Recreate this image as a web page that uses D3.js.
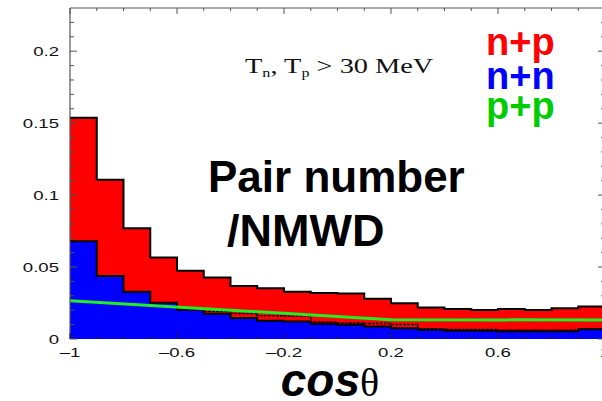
<html>
<head>
  <meta charset="utf-8" />
<style>
  html, body { margin: 0; padding: 0; background: #fff; }
  svg { display: block; }
</style>
</head>
<body>
<div id="graph"></div>
<script src="https://cdnjs.cloudflare.com/ajax/libs/d3/7.8.5/d3.min.js"></script>
<script>
// bin left edges (width 0.1)
var binStart = [-1, -0.9, -0.8, -0.7, -0.6, -0.5, -0.4, -0.3, -0.2, -0.1,
                 0, 0.1, 0.2, 0.3, 0.4, 0.5, 0.6, 0.7, 0.8, 0.9];
var binWidth = 0.1;

// n+p (red)
var np = [0.1537, 0.1106, 0.0769, 0.0567, 0.0474, 0.0428, 0.0368, 0.0352, 0.0329, 0.0320,
          0.0317, 0.0279, 0.0248, 0.0219, 0.0208, 0.0201, 0.0208, 0.0201, 0.0213, 0.0226];
// n+n (blue)
var nn = [0.0680, 0.0438, 0.0329, 0.0252, 0.0204, 0.0176, 0.0146, 0.0127, 0.0122, 0.0106,
          0.0099, 0.0086, 0.0074, 0.0064, 0.0058, 0.0058, 0.0053, 0.0053, 0.0053, 0.0067];
// extra outline histogram (black dashed)
var pp = [0.0260, 0.0240, 0.0220, 0.0210, 0.0195, 0.0191, 0.0178, 0.0162, 0.0160, 0.0118,
          0.0112, 0.0107, 0.0100, 0.0072, 0.0066, 0.0066, 0.0060, 0.0060, 0.0060, 0.0070];
// green line
var fitX = [-1, 0.2, 1];
var fitY = [0.0266, 0.0134, 0.0132];

var xTickLabels = [-1, -0.6, -0.2, 0.2, 0.6, 1];
var yTickLabels = [0, 0.05, 0.1, 0.15, 0.2];
var legend = [["n+p", "#ff0000"], ["n+n", "#0000ff"], ["p+p", "#00cc00"]];

var width = 602, height = 401;
var svg = d3.select("#graph").append("svg").attr("width", width).attr("height", height);

var x = d3.scaleLinear().domain([-1, 1]).range([70, 605]);
var y = d3.scaleLinear().domain([0, 0.23]).range([339, 8]);

function steps(vals) {
  var pts = binStart.map(function(b, i) { return [b, vals[i]]; });
  pts.push([binStart[binStart.length - 1] + binWidth, vals[vals.length - 1]]);
  return pts;
}

var area = d3.area().curve(d3.curveStepAfter)
  .x(function(d) { return x(d[0]); })
  .y0(y(0))
  .y1(function(d) { return y(d[1]); });
var line = d3.line().curve(d3.curveStepAfter)
  .x(function(d) { return x(d[0]); })
  .y(function(d) { return y(d[1]); });

function hist(vals, color) {
  var pts = steps(vals);
  svg.append("path").attr("d", area(pts)).attr("fill", color);
  svg.append("path").attr("d", line(pts)).attr("fill", "none")
    .attr("stroke", "#000").attr("stroke-width", 2);
}

hist(np, "#ff0000");
svg.append("path").attr("d", line(steps(pp))).attr("fill", "none")
  .attr("stroke", "#000").attr("stroke-width", 1.5).style("stroke-dasharray", "3, 1");
hist(nn, "#0000ff");

svg.append("path")
  .attr("d", d3.line().x(function(d) { return x(d[0]); }).y(function(d) { return y(d[1]); })
    (fitX.map(function(v, i) { return [v, fitY[i]]; })))
  .attr("fill", "none").attr("stroke", "#22ee22").attr("stroke-width", 3);

// frame
var axisColor = "#555";
svg.append("line").attr("x1", 70).attr("x2", 70).attr("y1", 8).attr("y2", 339)
  .attr("stroke", axisColor).attr("stroke-width", 1.2);
svg.append("line").attr("x1", 70).attr("x2", 605).attr("y1", 8).attr("y2", 8)
  .attr("stroke", axisColor).attr("stroke-width", 1.2);

// y ticks (left and right, pointing inwards)
var yMinor = d3.range(0, 23).map(function(i) { return i / 100; });
yMinor.forEach(function(v) {
  var major = Math.abs(Math.round(v * 100) % 5) === 0;
  var len = major ? 7 : 4;
  svg.append("line").attr("x1", 70).attr("x2", 70 + len).attr("y1", y(v)).attr("y2", y(v))
    .attr("stroke", axisColor).attr("stroke-width", 1);
  svg.append("line").attr("x1", 605).attr("x2", 605 - len).attr("y1", y(v)).attr("y2", y(v))
    .attr("stroke", axisColor).attr("stroke-width", 1);
});
// x ticks (top pointing down, bottom pointing up)
var xMinor = d3.range(-10, 11).map(function(i) { return i / 10; });
xMinor.forEach(function(v) {
  var major = Math.abs(Math.round(v * 10) % 4) === 2 || Math.abs(Math.round(v * 10)) === 10;
  var len = major ? 6 : 3;
  svg.append("line").attr("x1", x(v)).attr("x2", x(v)).attr("y1", 8).attr("y2", 8 + len)
    .attr("stroke", axisColor).attr("stroke-width", 1);
  svg.append("line").attr("x1", x(v)).attr("x2", x(v)).attr("y1", 339).attr("y2", 339 - len)
    .attr("stroke", "#222").attr("stroke-width", 1);
});

// tick labels (stretched Helvetica-like)
function fmt(v) {
  var s = String(v);
  return s.replace("-", "\u2013");
}
yTickLabels.forEach(function(v) {
  svg.append("text")
    .attr("transform", "translate(59," + (y(v) + 4.5) + ") scale(1.55,1)")
    .attr("text-anchor", "end")
    .style("font-family", "'Liberation Sans', Arial, sans-serif")
    .style("font-size", "12px").attr("fill", "#111")
    .text(fmt(v));
});
xTickLabels.forEach(function(v) {
  svg.append("text")
    .attr("transform", "translate(" + x(v) + ",357) scale(1.55,1)")
    .attr("text-anchor", "middle")
    .style("font-family", "'Liberation Sans', Arial, sans-serif")
    .style("font-size", "12px").attr("fill", "#111")
    .text(fmt(v));
});

// axis title
var xt = svg.append("text").attr("x", 330).attr("y", 396).attr("text-anchor", "middle");
xt.append("tspan").text("cos")
  .style("font-family", "'Liberation Sans', Arial, sans-serif")
  .style("font-weight", "bold").style("font-style", "italic").style("font-size", "46px");
xt.append("tspan").text("\u03b8")
  .style("font-family", "'Liberation Serif', 'Times New Roman', serif")
  .style("font-size", "40px");

// annotation (stretched serif)
var an = svg.append("text").attr("transform", "translate(245,73) scale(1.35,1)")
  .style("font-family", "'Liberation Serif', 'Times New Roman', serif")
  .style("font-size", "21px").attr("fill", "#111");
an.append("tspan").text("T");
an.append("tspan").text("n").attr("dy", 4).style("font-size", "12px");
an.append("tspan").text(", T").attr("dy", -4);
an.append("tspan").text("p").attr("dy", 4).style("font-size", "12px");
an.append("tspan").text(" > 30 MeV").attr("dy", -4);

// big label
var big = svg.append("g")
  .style("font-family", "'Liberation Sans', Arial, sans-serif")
  .style("font-weight", "bold").style("font-size", "44px");
big.append("text").attr("x", 208).attr("y", 192).text("Pair number");
big.append("text").attr("x", 227).attr("y", 246).style("font-size", "45px").text("/NMWD");

// legend
var legY = [55, 89, 119];
legend.forEach(function(l, i) {
  svg.append("text").attr("x", 486).attr("y", legY[i])
    .style("font-family", "'Liberation Sans', Arial, sans-serif")
    .style("font-weight", "bold").style("font-size", "38px")
    .attr("fill", l[1]).text(l[0]);
});
</script>
</body>
</html>
